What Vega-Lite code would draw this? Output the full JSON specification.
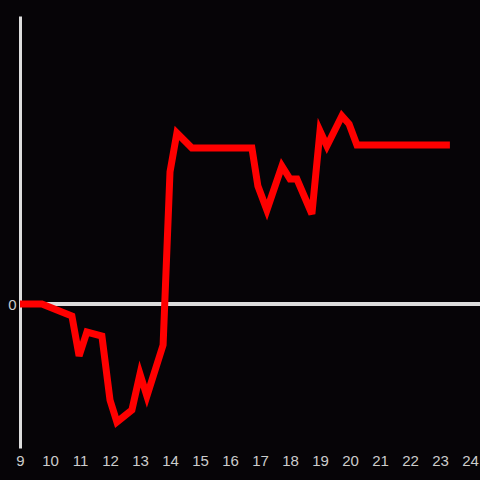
{
  "$schema": "https://vega.github.io/schema/vega-lite/v6.json",
  "width": 460,
  "height": 432,
  "autosize": {"type": "none"},
  "padding": {"left": 20, "top": 16, "right": 0, "bottom": 32},
  "background": "#060407",
  "config": {"view": {"stroke": null}, "axis": {"grid": false}},
  "data": {
    "values": [
      {"t": 9.0, "v": 0},
      {"t": 9.73, "v": 0},
      {"t": 10.73, "v": -12},
      {"t": 10.97, "v": -52},
      {"t": 11.23, "v": -28},
      {"t": 11.73, "v": -32},
      {"t": 12.0, "v": -96},
      {"t": 12.23, "v": -118},
      {"t": 12.73, "v": -106},
      {"t": 13.0, "v": -70},
      {"t": 13.23, "v": -92},
      {"t": 13.77, "v": -41},
      {"t": 14.0, "v": 132},
      {"t": 14.23, "v": 171},
      {"t": 14.73, "v": 156},
      {"t": 16.73, "v": 156},
      {"t": 16.93, "v": 118},
      {"t": 17.23, "v": 94},
      {"t": 17.73, "v": 138},
      {"t": 18.0, "v": 125},
      {"t": 18.23, "v": 125},
      {"t": 18.73, "v": 90},
      {"t": 19.0, "v": 173},
      {"t": 19.23, "v": 158},
      {"t": 19.73, "v": 188},
      {"t": 19.97, "v": 180},
      {"t": 20.23, "v": 159},
      {"t": 23.33, "v": 159}
    ]
  },
  "layer": [
    {
      "mark": {"type": "rule", "color": "#dddddd", "strokeWidth": 3},
      "encoding": {"y": {"datum": 0, "type": "quantitative"}}
    },
    {
      "mark": {"type": "line", "color": "#ff0000", "strokeWidth": 7, "clip": true},
      "encoding": {
        "x": {
          "field": "t", "type": "quantitative",
          "scale": {"domain": [9, 24.3333], "nice": false, "zero": false},
          "axis": {
            "title": null, "domain": false, "ticks": false,
            "values": [9,10,11,12,13,14,15,16,17,18,19,20,21,22,23,24],
            "labelColor": "#cccccc", "labelFont": "Liberation Sans", "labelFontSize": 15,
            "labelPadding": 5, "labelFlush": false, "labelOverlap": false
          }
        },
        "y": {
          "field": "v", "type": "quantitative",
          "scale": {"domain": [-144, 288], "nice": false, "zero": false},
          "axis": {
            "title": null, "values": [0], "ticks": false,
            "domainColor": "#dddddd", "domainWidth": 3,
            "labelColor": "#cccccc", "labelFont": "Liberation Sans", "labelFontSize": 15,
            "labelPadding": 4
          }
        }
      }
    }
  ]
}
